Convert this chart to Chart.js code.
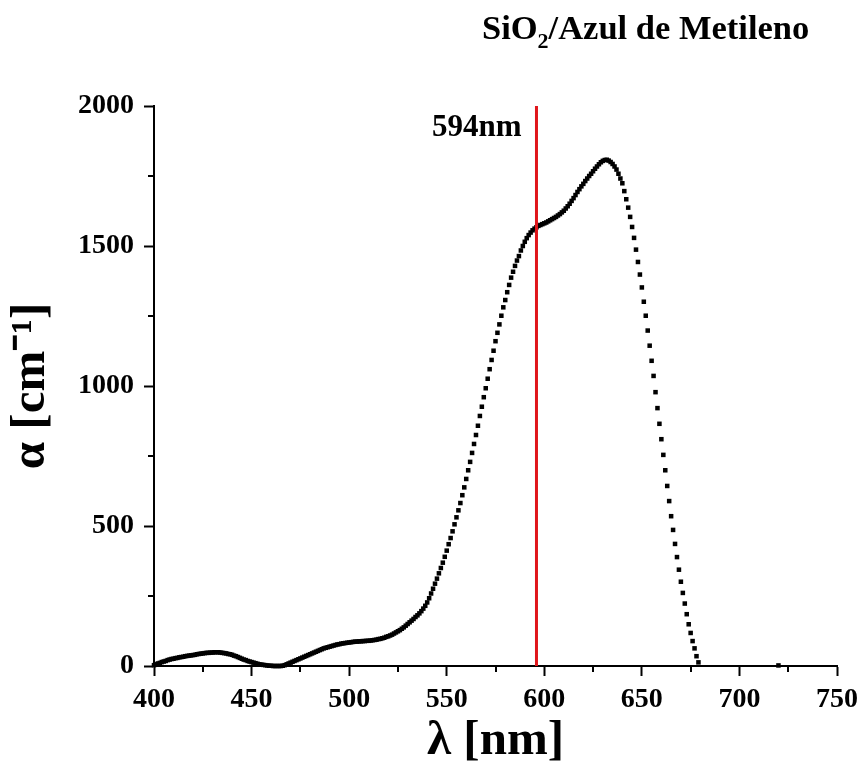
<!DOCTYPE html>
<html>
<head>
<meta charset="utf-8">
<title>SiO2/Azul de Metileno</title>
<script src="https://cdn.jsdelivr.net/npm/chart.js@4.4.1/dist/chart.umd.min.js"></script>
<style>
  html, body { margin: 0; padding: 0; background: #fff; }
  #wrap { width: 865px; height: 771px; }
</style>
</head>
<body>
<div id="wrap"><canvas id="absChart" width="865" height="771"></canvas></div>
<script>
// Absorption spectrum, one reading per nm starting at 400 nm
const lambdaStart = 400;
const alphaValues = [
    3, 6, 9, 11, 14, 16, 18, 21, 23, 25,            // 400
    26, 28, 29, 31, 32, 33, 35, 36, 37, 38,         // 410
    39, 40, 42, 43, 44, 45, 46, 47, 47, 48,         // 420
    48, 49, 49, 49, 48, 47, 46, 45, 43, 42,         // 430
    40, 37, 35, 32, 29, 26, 23, 21, 18, 16,         // 440
    14, 12, 10, 8, 6, 5, 4, 3, 2, 1,                // 450
    1, 0, 0, 0, 0, 0, 1, 3, 6, 9,                   // 460
    12, 15, 18, 21, 24, 27, 30, 33, 36, 39,         // 470
    42, 45, 48, 51, 54, 57, 60, 63, 65, 67,         // 480
    69, 71, 73, 75, 77, 78, 80, 81, 82, 83,         // 490
    84, 85, 86, 87, 87, 88, 88, 89, 89, 90,         // 500
    90, 91, 92, 93, 94, 96, 97, 99, 101, 104,       // 510
    106, 109, 112, 116, 120, 124, 128, 133, 138, 144,   // 520
    150, 156, 162, 168, 175, 181, 188, 196, 205, 215,   // 530
    227, 242, 259, 276, 294, 312, 331, 350, 369, 390,   // 540
    412, 435, 457, 481, 506, 531, 556, 582, 610, 638,   // 550
    668, 699, 729, 761, 793, 825, 858, 893, 926, 960,   // 560
    992, 1026, 1060, 1093, 1126, 1160, 1190, 1220, 1251, 1281,   // 570
    1307, 1335, 1361, 1387, 1408, 1429, 1448, 1464, 1484, 1500,  // 580
    1515, 1528, 1539, 1548, 1556, 1562, 1567, 1572, 1575, 1578,  // 590
    1581, 1584, 1588, 1592, 1596, 1600, 1604, 1609, 1614, 1620,  // 600
    1626, 1634, 1642, 1651, 1661, 1671, 1682, 1693, 1703, 1713,  // 610
    1722, 1732, 1741, 1750, 1758, 1767, 1776, 1784, 1792, 1799,  // 620
    1804, 1807, 1808, 1805, 1800, 1793, 1784, 1773, 1758, 1741,  // 630
    1724, 1696, 1667, 1637, 1604, 1568, 1529, 1487, 1443, 1398,  // 640
    1352, 1301, 1251, 1198, 1144, 1090, 1036, 978, 921, 865,     // 650
    810, 754, 699, 643, 589, 535, 486, 436, 389, 344,            // 660
    301, 261, 223, 185, 149, 118, 89, 63, 35, 13                 // 670
];
// lone reading far in the tail
const tailLambda = [720];
const tailAlpha = [2];

// marker line
const markerLambda = 596;
const markerText = '594nm';

// axes
const xTicks = [400, 450, 500, 550, 600, 650, 700, 750];
const xMinor = [425, 475, 525, 575, 625, 675, 725];
const yTicks = [0, 500, 1000, 1500, 2000];
const yMinor = [250, 750, 1250, 1750];

const serif = "'Liberation Serif', 'Times New Roman', Times, serif";

const spectrum = alphaValues.map((a, i) => ({ x: lambdaStart + i, y: a }));
tailLambda.forEach((l, i) => spectrum.push({ x: l, y: tailAlpha[i] }));

// Minor ticks, title (with subscript) and the marker label
const extras = {
    id: 'extras',
    afterDraw(chart) {
        const ctx = chart.ctx;
        const xs = chart.scales.x, ys = chart.scales.y;
        const area = chart.chartArea;

        ctx.save();
        ctx.strokeStyle = '#000';
        ctx.lineWidth = 2;
        ctx.beginPath();
        xMinor.forEach(v => {
            const px = Math.round(xs.getPixelForValue(v));
            ctx.moveTo(px, area.bottom);
            ctx.lineTo(px, area.bottom + 6);
        });
        yMinor.forEach(v => {
            const py = Math.round(ys.getPixelForValue(v));
            ctx.moveTo(area.left, py);
            ctx.lineTo(area.left - 6, py);
        });
        ctx.stroke();

        // title
        ctx.fillStyle = '#000';
        ctx.textBaseline = 'alphabetic';
        ctx.textAlign = 'left';
        let x = 482;
        ctx.font = 'bold 34.5px ' + serif;
        ctx.fillText('SiO', x, 39);
        x += ctx.measureText('SiO').width;
        ctx.font = 'bold 22px ' + serif;
        ctx.fillText('2', x, 48);
        x += ctx.measureText('2').width;
        ctx.font = 'bold 34.5px ' + serif;
        ctx.fillText('/Azul de Metileno', x, 39);

        // marker label
        ctx.font = 'bold 31px ' + serif;
        ctx.textAlign = 'right';
        ctx.fillText(markerText, xs.getPixelForValue(markerLambda) - 15, 136);
        ctx.restore();
    }
};

const ctx = document.getElementById('absChart').getContext('2d');

new Chart(ctx, {
    type: 'scatter',
    data: {
        datasets: [{
            label: 'SiO2/Azul de Metileno',
            data: spectrum,
            pointStyle: 'rect',
            pointRadius: 3.2,
            backgroundColor: '#000',
            borderWidth: 0,
            showLine: false,
            clip: false,
            order: 1
        }, {
            label: markerText,
            data: [{ x: markerLambda, y: yTicks[0] }, { x: markerLambda, y: yTicks[yTicks.length - 1] }],
            showLine: true,
            borderColor: '#e0161b',
            borderWidth: 3,
            pointRadius: 0,
            order: 0
        }]
    },
    options: {
        responsive: false,
        animation: false,
        events: [],
        layout: {
            padding: { top: 106, right: 27, left: 0, bottom: 0 }
        },
        plugins: {
            legend: { display: false },
            tooltip: { enabled: false }
        },
        scales: {
            x: {
                type: 'linear',
                min: xTicks[0],
                max: xTicks[xTicks.length - 1],
                afterFit: s => { s.height = 105; },
                afterBuildTicks: s => { s.ticks = xTicks.map(v => ({ value: v })); },
                ticks: {
                    color: '#000',
                    padding: 7,
                    maxRotation: 0,
                    callback: v => String(v),
                    font: { family: serif, size: 28, weight: 'bold' }
                },
                grid: {
                    drawOnChartArea: false,
                    drawTicks: true,
                    tickLength: 10,
                    tickWidth: 2,
                    tickColor: '#000'
                },
                border: { display: true, color: '#000', width: 2 },
                title: {
                    display: true,
                    text: 'λ [nm]',
                    color: '#000',
                    padding: { top: 0, bottom: 0 },
                    font: { family: serif, size: 49, weight: 'bold' }
                }
            },
            y: {
                type: 'linear',
                min: yTicks[0],
                max: yTicks[yTicks.length - 1],
                afterFit: s => { s.width = 154; },
                afterBuildTicks: s => { s.ticks = yTicks.map(v => ({ value: v })); },
                ticks: {
                    color: '#000',
                    padding: 10,
                    callback: v => String(v),
                    font: { family: serif, size: 28, weight: 'bold' }
                },
                grid: {
                    drawOnChartArea: false,
                    drawTicks: true,
                    tickLength: 10,
                    tickWidth: 2,
                    tickColor: '#000'
                },
                border: { display: true, color: '#000', width: 2 },
                title: {
                    display: true,
                    text: 'α [cm⁻¹]',
                    color: '#000',
                    padding: { top: 2, bottom: 0 },
                    font: { family: serif, size: 49, weight: 'bold' }
                }
            }
        }
    },
    plugins: [extras]
});
</script>
</body>
</html>
